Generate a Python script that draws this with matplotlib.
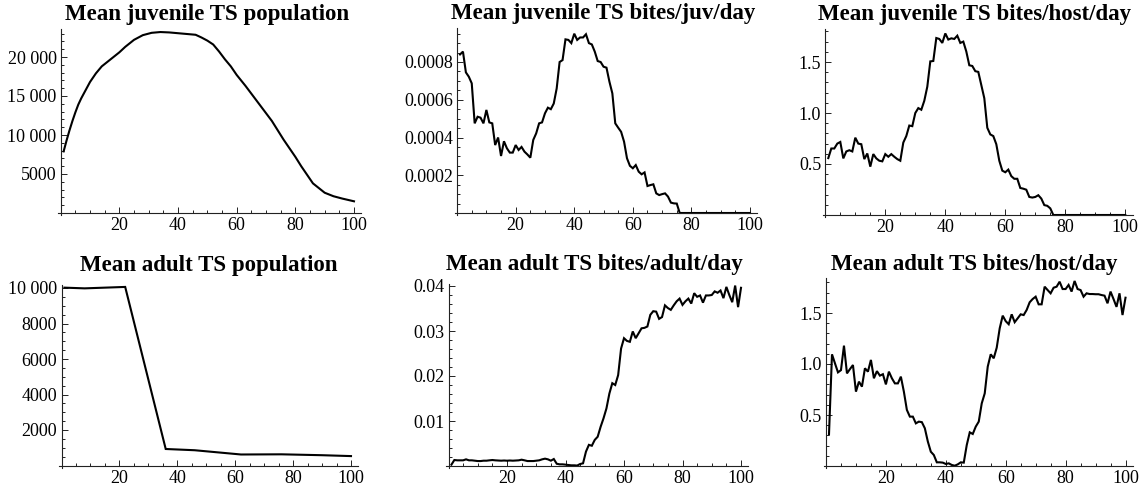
import numpy as np
import matplotlib
matplotlib.use("Agg")
import matplotlib.pyplot as plt
from matplotlib.ticker import FixedLocator, MultipleLocator, FuncFormatter

# ---------------- data ----------------
days = list(range(1, 101))

juv_pop_x = [1, 2, 3, 4, 5, 6, 7, 8, 9, 10, 12, 14, 16, 18, 20, 22, 25, 28, 31, 34, 37, 40, 43, 46, 48,
             50, 52, 54, 56, 58, 60, 63, 66, 68, 70, 72, 74, 76, 78, 80, 82, 84, 86, 88, 90, 93, 96, 100]
juv_pop_y = [7900, 9300, 10600, 11800, 12900, 13900, 14700, 15400, 16100, 16800, 17900, 18800, 19400,
             20000, 20600, 21300, 22200, 22800, 23100, 23200, 23150, 23050, 22950, 22850, 22500,
             22100, 21600, 20700, 19700, 18800, 17700, 16300, 14800, 13800, 12800, 11800, 10600,
             9400, 8300, 7200, 6000, 4900, 3800, 3200, 2600, 2150, 1850, 1500]

juv_bites_per_juv = [
    0.00084, 0.000855, 0.000745, 0.000722, 0.000687, 0.000475, 0.00051, 0.000505, 0.000475, 0.000546,
    0.00048, 0.000475, 0.00036, 0.0004, 0.000302, 0.00038, 0.000343, 0.00032, 0.00032, 0.00036,
    0.000334, 0.00035, 0.000325, 0.00031, 0.000293, 0.000387, 0.000422, 0.000475, 0.00048, 0.000528,
    0.000558, 0.00055, 0.00058, 0.00066, 0.0008, 0.00081, 0.00092, 0.000917, 0.0009, 0.00095,
    0.000917, 0.00093, 0.00093, 0.000947, 0.0009, 0.000893, 0.000855, 0.000805, 0.0008, 0.000775,
    0.00077, 0.000696, 0.000634, 0.000475, 0.000452, 0.00043, 0.000378, 0.00029, 0.00025, 0.000237,
    0.000254, 0.000219, 0.000205, 0.000215, 0.000143, 0.000148, 0.000152, 0.000104, 0.000095, 0.0001,
    0.000104, 0.000087, 0.000055, 0.000051, 0.00005, 0.0, 0.0, 0.0, 0.0, 0.0,
    0.0, 0.0, 0.0, 0.0, 0.0, 0.0, 0.0, 0.0, 0.0, 0.0,
    0.0, 0.0, 0.0, 0.0, 0.0, 0.0, 0.0, 0.0, 0.0, 0.0]

juv_bites_per_host = [
    0.558, 0.652, 0.652, 0.70, 0.716, 0.555, 0.623, 0.635, 0.623, 0.758,
    0.70, 0.694, 0.548, 0.603, 0.474, 0.597, 0.555, 0.532, 0.526, 0.597,
    0.571, 0.597, 0.571, 0.548, 0.532, 0.71, 0.774, 0.877, 0.871, 1.0,
    1.048, 1.032, 1.12, 1.258, 1.506, 1.51, 1.735, 1.726, 1.687, 1.78,
    1.72, 1.732, 1.726, 1.758, 1.687, 1.70, 1.603, 1.468, 1.461, 1.41,
    1.403, 1.274, 1.145, 0.855, 0.79, 0.774, 0.694, 0.532, 0.435, 0.419,
    0.445, 0.381, 0.355, 0.355, 0.265, 0.258, 0.248, 0.177, 0.171, 0.177,
    0.194, 0.161, 0.097, 0.09, 0.065, 0.0, 0.0, 0.0, 0.0, 0.0,
    0.0, 0.0, 0.0, 0.0, 0.0, 0.0, 0.0, 0.0, 0.0, 0.0,
    0.0, 0.0, 0.0, 0.0, 0.0, 0.0, 0.0, 0.0, 0.0, 0.0]

adult_pop_x = [1, 8, 22, 36, 46, 62, 76, 90, 100]
adult_pop_y = [10020, 9980, 10060, 930, 860, 620, 630, 580, 530]

adult_bites_per_adult = [
    0.0003, 0.00133, 0.00126, 0.00126, 0.00126, 0.00148, 0.00126, 0.00126, 0.00118, 0.0011,
    0.0011, 0.00118, 0.00118, 0.00126, 0.00133, 0.00126, 0.00122, 0.00118, 0.00122, 0.00118,
    0.00122, 0.00118, 0.00122, 0.00126, 0.0014, 0.00126, 0.0011, 0.0011, 0.0011, 0.00118,
    0.00126, 0.00148, 0.00163, 0.00148, 0.00118, 0.00155, 0.0005, 0.00037, 0.00037, 0.0003,
    0.00022, 0.00015, 0.00015, 0.0001, 0.00044, 0.0006, 0.0032, 0.0047, 0.0045, 0.0058,
    0.0065, 0.0087, 0.0106, 0.0128, 0.0161, 0.0184, 0.018, 0.0202, 0.0261, 0.0284,
    0.0278, 0.0276, 0.0299, 0.0284, 0.0295, 0.0306, 0.0307, 0.031, 0.0336, 0.0344,
    0.0343, 0.0327, 0.0331, 0.0357, 0.0351, 0.0347, 0.0357, 0.0366, 0.0372, 0.0358,
    0.0366, 0.0372, 0.0361, 0.0384, 0.0376, 0.0379, 0.0363, 0.0379, 0.0379, 0.038,
    0.0388, 0.0385, 0.039, 0.0373, 0.0398, 0.038, 0.0364, 0.0401, 0.0353, 0.0396]

adult_bites_per_host = [
    0.31, 1.095, 1.006, 0.918, 0.94, 1.18, 0.908, 0.95, 0.99, 0.729,
    0.827, 0.778, 0.958, 0.925, 1.04, 0.86, 0.93, 0.886, 0.90, 0.80,
    0.925, 0.86, 0.81, 0.81, 0.876, 0.729, 0.55, 0.484, 0.484, 0.418,
    0.435, 0.43, 0.37, 0.24, 0.14, 0.108, 0.036, 0.036, 0.033, 0.02,
    0.026, 0.01, 0.003, 0.016, 0.036, 0.033, 0.206, 0.33, 0.314, 0.386,
    0.435, 0.614, 0.712, 0.974, 1.095, 1.056, 1.16, 1.35, 1.474, 1.42,
    1.39, 1.487, 1.41, 1.448, 1.487, 1.48, 1.53, 1.605, 1.637, 1.66,
    1.585, 1.585, 1.758, 1.725, 1.693, 1.748, 1.758, 1.807, 1.735, 1.735,
    1.775, 1.71, 1.814, 1.735, 1.725, 1.66, 1.693, 1.686, 1.686, 1.684,
    1.684, 1.676, 1.67, 1.595, 1.71, 1.637, 1.56, 1.693, 1.48, 1.65]

titles = ["Mean juvenile TS population", "Mean juvenile TS bites/juv/day",
          "Mean juvenile TS bites/host/day", "Mean adult TS population",
          "Mean adult TS bites/adult/day", "Mean adult TS bites/host/day"]
x_ticks = [20, 40, 60, 80, 100]

# ---------------- layout ----------------
W, H = 1142, 491
fig = plt.figure(figsize=(W / 100, H / 100), dpi=100)
plt.rcParams['font.family'] = ['Liberation Serif', 'DejaVu Serif']

def fmt_thousands(v, pos=None):
    n = int(round(v))
    if n >= 10000:
        return f"{n:,}".replace(",", " ")
    return str(n)

panels = [
    # (xs, ys, X0px, X100px, Y0px, pxPerY, ytop, yticks, yminor, formatter, title_center_px, title_baseline_px)
    (juv_pop_x, juv_pop_y, 60.7, 354, 213, 7.8e-3, 23600, [5000, 10000, 15000, 20000], 1000,
     FuncFormatter(fmt_thousands), 207.5, 20),
    (days, juv_bites_per_juv, 457.1, 750, 213, 188750.0, 0.00098, [0.0002, 0.0004, 0.0006, 0.0008], 0.00005,
     FuncFormatter(lambda v, p: f"{v:.4f}"), 603, 19),
    (days, juv_bites_per_host, 825.3, 1125.3, 215, 102.0, 1.82, [0.5, 1.0, 1.5], 0.1,
     FuncFormatter(lambda v, p: f"{v:.1f}"), 975, 20),
    (adult_pop_x, adult_pop_y, 61.5, 351, 465.5, 17.75e-3, 10150, [2000, 4000, 6000, 8000, 10000], 500,
     FuncFormatter(fmt_thousands), 209, 271),
    (days, adult_bites_per_adult, 448.5, 741, 466, 4500.0, 0.0405, [0.01, 0.02, 0.03, 0.04], 0.002,
     FuncFormatter(lambda v, p: f"{v:.2f}"), 594.5, 270),
    (days, adult_bites_per_host, 826, 1125.5, 466, 102.0, 1.84, [0.5, 1.0, 1.5], 0.1,
     FuncFormatter(lambda v, p: f"{v:.1f}"), 974, 270),
]

XL0, XL1 = -0.8, 102.5
axis_col = '#222222'
for i, (xs, ys, X0, X100, Y0, sy, ytop, yt, ymin, fmt, tcx, tby) in enumerate(panels):
    sx = (X100 - X0) / 100.0
    yl0 = -0.012 * ytop
    left = X0 + XL0 * sx
    right = X0 + XL1 * sx
    top = Y0 - ytop * sy
    bottom = Y0 - yl0 * sy
    ax = fig.add_axes([left / W, 1 - bottom / H, (right - left) / W, (bottom - top) / H])
    ax.plot(xs, ys, color='black', lw=1.5, solid_joinstyle='miter', clip_on=False)
    ax.set_xlim(XL0, XL1)
    ax.set_ylim(yl0, ytop)
    for s in ['top', 'right']:
        ax.spines[s].set_visible(False)
    ax.spines['left'].set_position(('data', 0))
    ax.spines['bottom'].set_position(('data', 0))
    for s in ['left', 'bottom']:
        ax.spines[s].set_color(axis_col)
        ax.spines[s].set_linewidth(0.8)
    ax.patch.set_alpha(0)
    ax.xaxis.set_major_locator(FixedLocator(x_ticks))
    ax.xaxis.set_minor_locator(MultipleLocator(5))
    ax.yaxis.set_major_locator(FixedLocator(yt))
    ax.yaxis.set_minor_locator(MultipleLocator(ymin))
    ax.yaxis.set_major_formatter(fmt)
    ax.tick_params(which='both', direction='in', colors=axis_col, labelcolor='black',
                   labelsize=13, width=0.7)
    ax.tick_params(which='major', length=4.5, pad=3)
    ax.tick_params(which='minor', length=2.5)
    fig.text(tcx / W, 1 - tby / H, titles[i], fontsize=16.5, fontweight='bold',
             ha='center', va='baseline')

fig.savefig("out.png", dpi=100)
